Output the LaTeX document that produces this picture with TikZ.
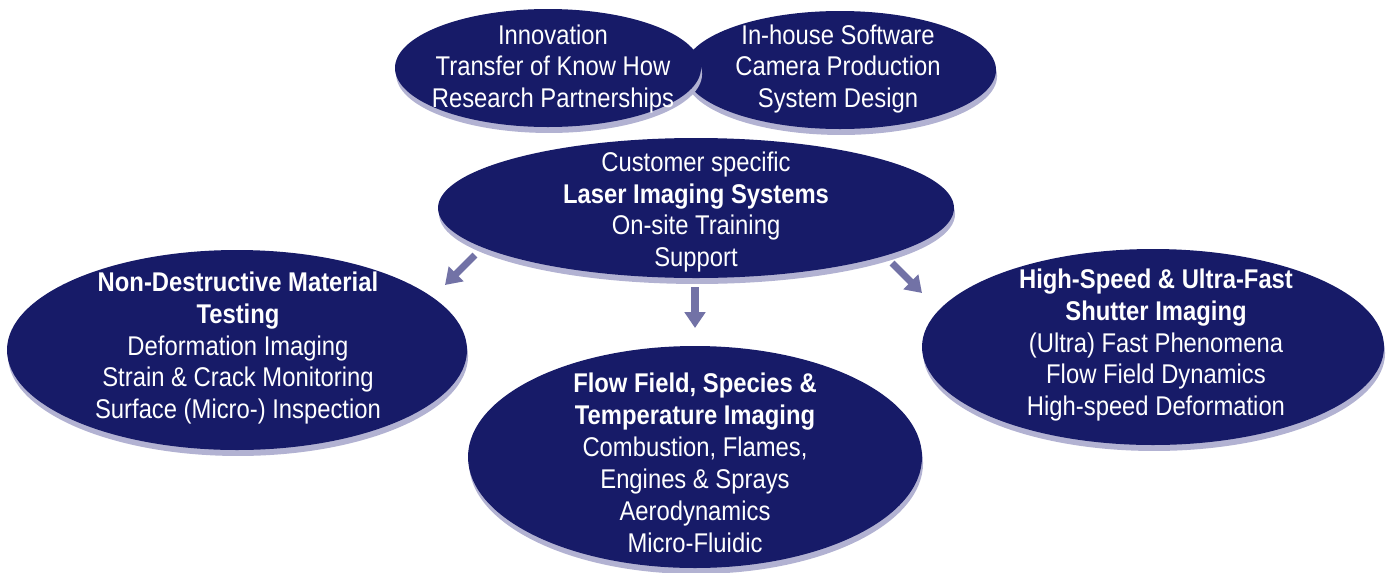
\documentclass[tikz,border=0pt]{standalone}
\usepackage{fontspec}
\setmainfont[FakeStretch=0.88]{Liberation Sans}
\usetikzlibrary{shapes.geometric}
\usetikzlibrary{shadows}
\usetikzlibrary{arrows.meta}
\usetikzlibrary{positioning}
\definecolor{navy}{RGB}{23,27,104}
\definecolor{lilac}{RGB}{178,178,210}
\definecolor{arrowblue}{RGB}{114,114,166}
\tikzstyle{blob}=[ellipse,fill=navy,draw=none,inner sep=0pt,drop shadow={shadow xshift=0.6pt,shadow yshift=-3.4pt,fill=lilac,opacity=1}]
\tikzstyle{txt}=[text=white,align=center,inner sep=0pt,font=\fontsize{15.4}{18.2}\selectfont]
\tikzstyle{pointer}=[draw=arrowblue,line width=4pt,-{Triangle[length=9pt,width=11.5pt]}]

\begin{document}
\begin{tikzpicture}[x=0.02cm,y=-0.02cm]

 \useasboundingbox (0,0) rectangle (1386,572);

 % ellipses, right top one first so the left one lies over it
 \foreach \x/\y/\w/\h/\name in {840/70/312/118/tr, 548/68/306/118/tl,
                                696/208/516/140/cen, 237/350/460/200/ndt,
                                1153/347/462/196/hs, 695/457/454/222/flow}
     \node[blob, minimum width={\w*0.02cm}, minimum height={\h*0.02cm}] (\name) at (\x,\y) {};

 % texts
 \node[txt] (tl-t) at ([shift={(5,1)}]tl.center) {Innovation\\Transfer of Know How\\Research Partnerships};
 \node[txt] (tr-t) at ([shift={(-2,-1)}]tr.center) {In-house Software\\Camera Production\\System Design};
 \node[txt] (cen-t) at ([shift={(0,4)}]cen.center) {Customer specific\\{\bfseries Laser Imaging Systems}\\On-site Training\\Support};
 \node[txt] (ndt-t) at ([shift={(1,-2)}]ndt.center) {{\bfseries Non-Destructive Material}\\{\bfseries Testing}\\Deformation Imaging\\Strain \& Crack Monitoring\\Surface (Micro-) Inspection};
 \node[txt] (hs-t) at ([shift={(3,-2)}]hs.center) {{\bfseries High-Speed \& Ultra-Fast}\\{\bfseries Shutter Imaging}\\(Ultra) Fast Phenomena\\Flow Field Dynamics\\High-speed Deformation};
 \node[txt] (flow-t) at ([shift={(0,6)}]flow.center) {{\bfseries Flow Field, Species \&}\\{\bfseries Temperature Imaging}\\Combustion, Flames,\\Engines \& Sprays\\Aerodynamics\\Micro-Fluidic};

 % arrows
 \draw[pointer] ([shift={(-221,47)}]cen.center) -- ([shift={(208,-65)}]ndt.center);
 \draw[pointer] ([shift={(-1,79)}]cen.center) -- ([shift={(0,-129)}]flow.center);
 \draw[pointer] ([shift={(196,55)}]cen.center) -- ([shift={(-231,-54)}]hs.center);

\end{tikzpicture}
\end{document}
